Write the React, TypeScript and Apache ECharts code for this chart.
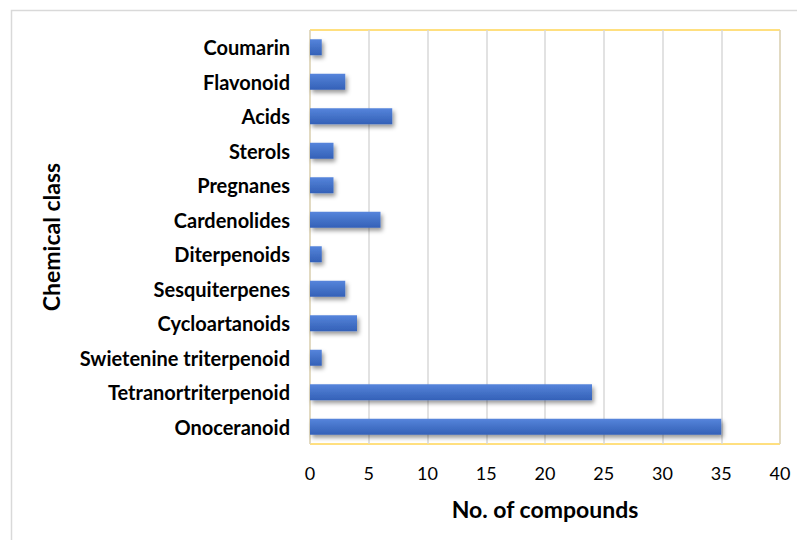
import React, { useEffect, useRef } from "react";
import * as echarts from "echarts";

const categories = [
  "Onoceranoid",
  "Tetranortriterpenoid",
  "Swietenine triterpenoid",
  "Cycloartanoids",
  "Sesquiterpenes",
  "Diterpenoids",
  "Cardenolides",
  "Pregnanes",
  "Sterols",
  "Acids",
  "Flavonoid",
  "Coumarin",
];
const counts = [35, 24, 1, 4, 3, 1, 6, 2, 2, 7, 3, 1];
const xTicks = { min: 0, max: 40, interval: 5 };

export default function App() {
  const ref = useRef<HTMLDivElement>(null);
  useEffect(() => {
    if (!ref.current) return;
    const chart = echarts.init(ref.current, null, { renderer: "svg" });
    const font = "Lato";
    chart.setOption({
      animation: false,
      backgroundColor: "#ffffff",
      textStyle: { fontFamily: font },
      graphic: [
        {
          type: "rect",
          shape: { x: 11.5, y: 10.5, width: 820, height: 600 },
          style: { fill: "none", stroke: "#d9d9d9", lineWidth: 1.5 },
          silent: true,
        },
      ],
      grid: {
        left: 310,
        top: 30,
        width: 470,
        height: 414,
        show: true,
        borderColor: "#FFC000",
        borderWidth: 1,
        backgroundColor: "transparent",
      },
      xAxis: {
        type: "value",
        min: xTicks.min,
        max: xTicks.max,
        interval: xTicks.interval,
        name: "No. of compounds",
        nameLocation: "middle",
        nameGap: 53,
        nameTextStyle: { fontFamily: font, fontSize: 23, fontWeight: "bold", color: "#000" },
        axisLine: { show: false },
        axisTick: { show: false },
        axisLabel: { fontFamily: font, fontSize: 18, color: "#000", margin: 20 },
        splitLine: { show: true, lineStyle: { color: "#d9d9d9", width: 1.5 } },
      },
      yAxis: {
        type: "category",
        data: categories,
        name: "Chemical class",
        nameLocation: "middle",
        nameRotate: 90,
        nameGap: 248,
        nameTextStyle: { fontFamily: font, fontSize: 23, fontWeight: "bold", color: "#000" },
        axisLine: { show: false },
        axisTick: { show: false },
        axisLabel: { fontFamily: font, fontSize: 20, fontWeight: "bold", color: "#000", margin: 20 },
        splitLine: { show: false },
      },
      series: [
        {
          type: "bar",
          data: counts,
          barWidth: 16,
          itemStyle: {
            color: new echarts.graphic.LinearGradient(0, 0, 0, 1, [
              { offset: 0, color: "#5685dc" },
              { offset: 0.5, color: "#4472c8" },
              { offset: 1, color: "#3461b8" },
            ]),
            shadowColor: "rgba(0,0,0,0.4)",
            shadowBlur: 4,
            shadowOffsetX: 2,
            shadowOffsetY: 3,
          },
        },
      ],
    });
    return () => chart.dispose();
  }, []);
  return (
    <div
      ref={ref}
      style={{ position: "fixed", left: 0, top: 0, width: 797, height: 540 }}
    />
  );
}
